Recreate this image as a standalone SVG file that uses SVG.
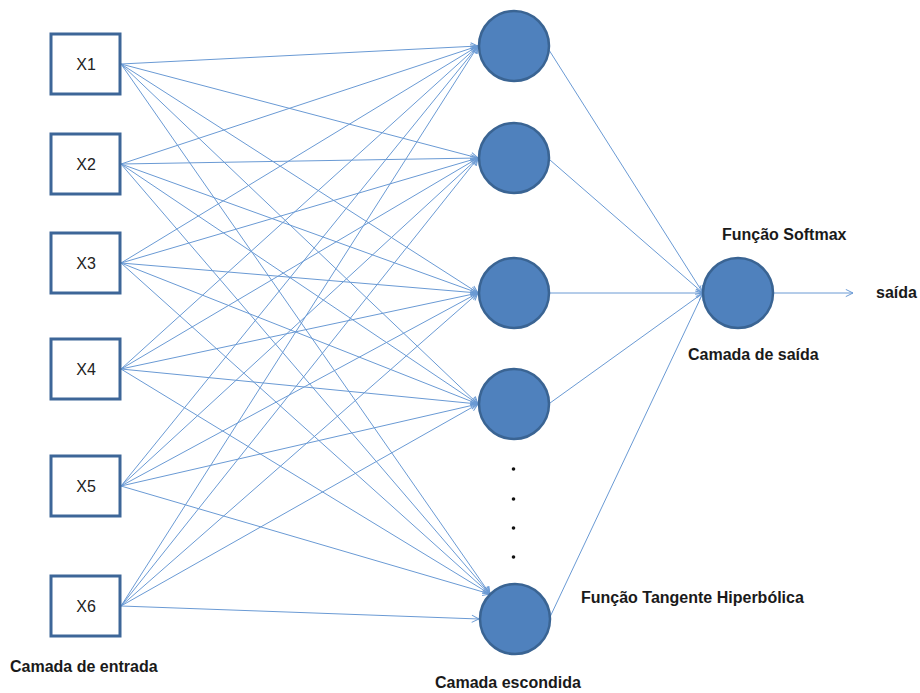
<svg xmlns="http://www.w3.org/2000/svg" width="920" height="693" viewBox="0 0 920 693">
  <defs>
    <style>
      .box { fill: #ffffff; stroke: #3d6698; stroke-width: 3; }
      .neuron { fill: #4f81bd; stroke: #3a6493; stroke-width: 2.5; }
      .edge { stroke: #6a9ad4; stroke-width: 1; fill: none; marker-end: url(#arrow); }
      .xl { font-family: "Liberation Sans", Arial, sans-serif; font-size: 16px; fill: #222222; text-anchor: middle; }
      .lbl { font-family: "Liberation Sans", Arial, sans-serif; font-size: 16px; font-weight: bold; fill: #1a1a1a; }
      .dot { fill: #111111; }
    </style>
    <marker id="arrow" viewBox="0 0 10 10" refX="9" refY="5" markerWidth="9" markerHeight="9" markerUnits="userSpaceOnUse" orient="auto">
      <path d="M1,1 L9,5 L1,9" fill="none" stroke="#6a9ad4" stroke-width="1.1"/>
    </marker>
  </defs>
  <rect width="920" height="693" fill="#ffffff"/>

  <!-- connectors -->
  <g id="connectors">
    <!-- X1 -->
    <line class="edge" x1="121" y1="64" x2="478" y2="46"/>
    <line class="edge" x1="121" y1="64" x2="478" y2="158"/>
    <line class="edge" x1="121" y1="64" x2="478" y2="293"/>
    <line class="edge" x1="121" y1="64" x2="478" y2="404"/>
    <line class="edge" x1="121" y1="64" x2="490" y2="594"/>
    <!-- X2 -->
    <line class="edge" x1="121" y1="164" x2="478" y2="46"/>
    <line class="edge" x1="121" y1="164" x2="478" y2="158"/>
    <line class="edge" x1="121" y1="164" x2="478" y2="293"/>
    <line class="edge" x1="121" y1="164" x2="478" y2="404"/>
    <line class="edge" x1="121" y1="164" x2="490" y2="594"/>
    <!-- X3 -->
    <line class="edge" x1="121" y1="263" x2="478" y2="46"/>
    <line class="edge" x1="121" y1="263" x2="478" y2="158"/>
    <line class="edge" x1="121" y1="263" x2="478" y2="293"/>
    <line class="edge" x1="121" y1="263" x2="478" y2="404"/>
    <line class="edge" x1="121" y1="263" x2="490" y2="594"/>
    <!-- X4 -->
    <line class="edge" x1="121" y1="369" x2="478" y2="46"/>
    <line class="edge" x1="121" y1="369" x2="478" y2="158"/>
    <line class="edge" x1="121" y1="369" x2="478" y2="293"/>
    <line class="edge" x1="121" y1="369" x2="478" y2="404"/>
    <line class="edge" x1="121" y1="369" x2="490" y2="594"/>
    <!-- X5 -->
    <line class="edge" x1="121" y1="486" x2="478" y2="46"/>
    <line class="edge" x1="121" y1="486" x2="478" y2="158"/>
    <line class="edge" x1="121" y1="486" x2="478" y2="293"/>
    <line class="edge" x1="121" y1="486" x2="478" y2="404"/>
    <line class="edge" x1="121" y1="486" x2="490" y2="594"/>
    <!-- X6 -->
    <line class="edge" x1="121" y1="606" x2="478" y2="46"/>
    <line class="edge" x1="121" y1="606" x2="478" y2="158"/>
    <line class="edge" x1="121" y1="606" x2="478" y2="293"/>
    <line class="edge" x1="121" y1="606" x2="478" y2="404"/>
    <line class="edge" x1="121" y1="606" x2="479" y2="619"/>
    <!-- hidden to output -->
    <line class="edge" x1="549" y1="50" x2="703" y2="293"/>
    <line class="edge" x1="550" y1="160" x2="703" y2="293"/>
    <line class="edge" x1="550" y1="293" x2="703" y2="293"/>
    <line class="edge" x1="550" y1="403" x2="703" y2="293"/>
    <line class="edge" x1="550" y1="617" x2="703" y2="293"/>
    <!-- output -->
    <line class="edge" x1="773" y1="293" x2="853" y2="293"/>
  </g>

  <!-- input layer -->
  <g id="x1"><rect class="box" x="51" y="34" width="69" height="60"/><text class="xl" x="86" y="70">X1</text></g>
  <g id="x2"><rect class="box" x="51" y="134" width="69" height="60"/><text class="xl" x="86" y="170">X2</text></g>
  <g id="x3"><rect class="box" x="51" y="233" width="69" height="60"/><text class="xl" x="86" y="269">X3</text></g>
  <g id="x4"><rect class="box" x="51" y="339" width="69" height="60"/><text class="xl" x="86" y="375">X4</text></g>
  <g id="x5"><rect class="box" x="51" y="456" width="69" height="60"/><text class="xl" x="86" y="492">X5</text></g>
  <g id="x6"><rect class="box" x="51" y="576" width="69" height="60"/><text class="xl" x="86" y="612">X6</text></g>

  <!-- hidden layer -->
  <g id="h1"><circle class="neuron" cx="514" cy="46" r="35"/></g>
  <g id="h2"><circle class="neuron" cx="514" cy="158" r="35"/></g>
  <g id="h3"><circle class="neuron" cx="514" cy="293" r="35"/></g>
  <g id="h4"><circle class="neuron" cx="514" cy="404" r="35"/></g>
  <g id="h5"><circle class="neuron" cx="515" cy="619" r="35"/></g>
  <g id="ellipsis">
    <circle class="dot" cx="513.5" cy="469" r="1.8"/>
    <circle class="dot" cx="513.5" cy="499" r="1.8"/>
    <circle class="dot" cx="513.5" cy="528" r="1.8"/>
    <circle class="dot" cx="513.5" cy="557" r="1.8"/>
  </g>

  <!-- output layer -->
  <g id="out"><circle class="neuron" cx="738" cy="293" r="35"/></g>

  <!-- labels -->
  <g id="labels">
    <text class="lbl" x="722" y="240">Função Softmax</text>
    <text class="lbl" x="688" y="360">Camada de saída</text>
    <text class="lbl" x="876" y="298">saída</text>
    <text class="lbl" x="581" y="603">Função Tangente Hiperbólica</text>
    <text class="lbl" x="435" y="688">Camada escondida</text>
    <text class="lbl" x="10" y="672">Camada de entrada</text>
  </g>
</svg>
